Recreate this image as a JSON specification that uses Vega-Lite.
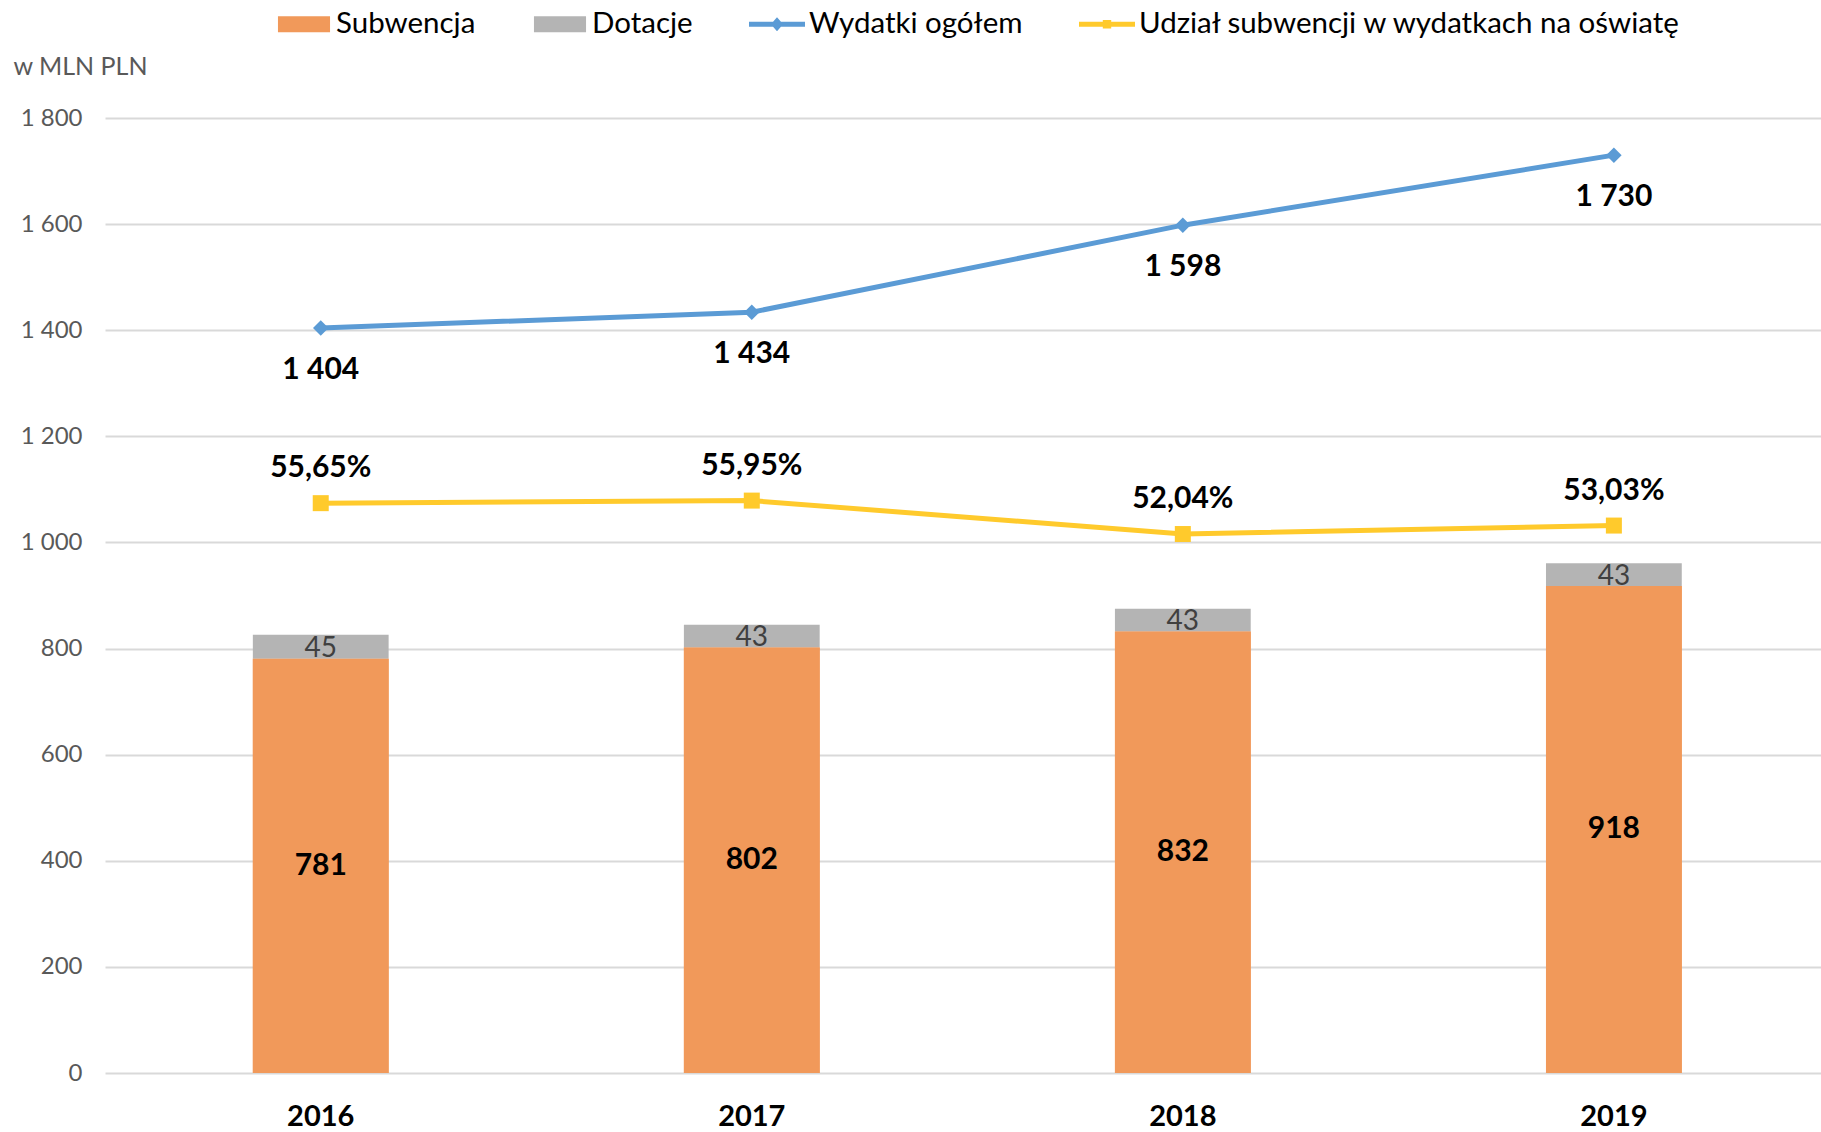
{
  "$schema": "https://vega.github.io/schema/vega-lite/v6.json",
  "width": 1716,
  "height": 955,
  "autosize": {"type": "none"},
  "padding": {"left": 105, "top": 118, "right": 0, "bottom": 59},
  "background": "#ffffff",
  "config": {
    "font": "Lato",
    "view": {"stroke": null},
    "locale": {"number": {"decimal": ",", "thousands": " ", "grouping": [3], "currency": ["", " zł"]}},
    "axisY": {
      "domain": false, "ticks": false, "tickSize": 0,
      "gridColor": "#D9D9D9", "gridWidth": 2,
      "labelFont": "Lato", "labelFontSize": 24, "labelColor": "#595959", "labelPadding": 23,
      "format": ",d", "tickCount": 9,
      "titleFont": "Lato", "titleFontSize": 25, "titleFontWeight": "normal", "titleColor": "#595959",
      "titleAngle": 0, "titleX": -92, "titleY": -44, "titleAlign": "left", "titleBaseline": "alphabetic"
    }
  },
  "datasets": {
    "bary": [
      {"rok": "2016", "seria": "Subwencja", "wartosc": 781},
      {"rok": "2016", "seria": "Dotacje", "wartosc": 45},
      {"rok": "2017", "seria": "Subwencja", "wartosc": 802},
      {"rok": "2017", "seria": "Dotacje", "wartosc": 43},
      {"rok": "2018", "seria": "Subwencja", "wartosc": 832},
      {"rok": "2018", "seria": "Dotacje", "wartosc": 43},
      {"rok": "2019", "seria": "Subwencja", "wartosc": 918},
      {"rok": "2019", "seria": "Dotacje", "wartosc": 43}
    ],
    "linie": [
      {"rok": "2016", "wydatki": 1404, "udzial": 0.5565},
      {"rok": "2017", "wydatki": 1434, "udzial": 0.5595},
      {"rok": "2018", "wydatki": 1598, "udzial": 0.5204},
      {"rok": "2019", "wydatki": 1730, "udzial": 0.5303}
    ]
  },
  "encoding": {
    "x": {
      "field": "rok", "type": "ordinal",
      "scale": {"paddingInner": 0.685, "paddingOuter": 0.333, "align": 0.515},
      "axis": {
        "title": null, "domain": false, "ticks": false, "tickSize": 0, "grid": false,
        "labelAngle": 0, "labelFont": "Lato", "labelFontSize": 29, "labelFontWeight": "bold",
        "labelColor": "#000000", "labelBaseline": "alphabetic", "labelPadding": 52
      }
    }
  },
  "layer": [
    {
      "layer": [
        {
          "data": {"name": "bary"},
          "mark": {"type": "bar"},
          "encoding": {
            "y": {"field": "wartosc", "type": "quantitative", "stack": "zero", "scale": {"domain": [0, 1800]}, "title": "w MLN PLN"},
            "color": {
              "field": "seria", "type": "nominal",
              "scale": {
                "domain": ["Subwencja", "Dotacje", "Wydatki ogółem", "Udział subwencji w wydatkach na oświatę"],
                "range": ["#F1995A", "#B4B4B4", "#5B9BD5", "#FFCA2C"]
              },
              "legend": {
                "orient": "none", "legendX": 171, "legendY": -122, "direction": "horizontal", "columns": 4,
                "title": null, "labelFont": "Lato", "labelFontSize": 29.5, "labelColor": "#000000",
                "symbolSize": 3136, "columnPadding": 56, "labelOffset": 4, "labelLimit": 1000,
                "symbolStrokeWidth": 0,
                "encode": {
                  "symbols": {
                    "update": {
                      "shape": {"signal": "datum.value === 'Subwencja' || datum.value === 'Dotacje' ? 'M-0.93,-0.29H0.93V0.29H-0.93Z' : (datum.value === 'Wydatki ogółem' ? 'M-1,-0.09H1V0.09H-1Z M0,-0.25L0.22,0L0,0.25L-0.22,0Z' : 'M-1,-0.09H1V0.09H-1Z M-0.15,-0.15H0.15V0.15H-0.15Z')"},
                      "fill": {"scale": "color", "field": "value"},
                      "strokeWidth": {"value": 0},
                      "opacity": {"value": 1}
                    }
                  }
                }
              }
            },
            "order": {"field": "seria", "sort": "descending"}
          }
        },
        {
          "data": {"name": "bary"},
          "mark": {"type": "text", "baseline": "middle", "align": "center", "dy": 2, "fontWeight": "normal"},
          "encoding": {
            "y": {"field": "wartosc", "type": "quantitative", "stack": "zero", "bandPosition": 0.5, "title": "w MLN PLN"},
            "detail": {"field": "seria"},
            "order": {"field": "seria", "sort": "descending"},
            "text": {"field": "wartosc", "type": "quantitative", "format": ",d"},
            "color": {"value": "#404040"},
            "size": {"value": 28}
          }
        },
        {
          "data": {"name": "bary"},
          "transform": [{"filter": "datum.seria === 'Subwencja'"}],
          "mark": {"type": "bar", "color": "#F1995A"},
          "encoding": {
            "y": {"field": "wartosc", "type": "quantitative", "stack": "zero", "title": "w MLN PLN"}
          }
        },
        {
          "data": {"name": "bary"},
          "transform": [{"filter": "datum.seria === 'Subwencja'"}],
          "mark": {"type": "text", "baseline": "middle", "align": "center", "fontWeight": "bold", "fontSize": 30, "color": "#000000"},
          "encoding": {
            "y": {"field": "wartosc", "type": "quantitative", "stack": "zero", "bandPosition": 0.5, "title": "w MLN PLN"},
            "text": {"field": "wartosc", "type": "quantitative", "format": ",d"}
          }
        },
        {
          "data": {"name": "linie"},
          "mark": {"type": "line", "strokeWidth": 5},
          "encoding": {
            "y": {"field": "wydatki", "type": "quantitative", "title": "w MLN PLN"},
            "color": {"datum": "Wydatki ogółem"}
          }
        },
        {
          "data": {"name": "linie"},
          "mark": {"type": "point", "shape": "diamond", "filled": true, "size": 240, "opacity": 1},
          "encoding": {
            "y": {"field": "wydatki", "type": "quantitative", "title": "w MLN PLN"},
            "color": {"datum": "Wydatki ogółem"}
          }
        },
        {
          "data": {"name": "linie"},
          "mark": {"type": "text", "fontSize": 30, "fontWeight": "bold", "color": "#000000", "baseline": "middle", "dy": 42},
          "encoding": {
            "y": {"field": "wydatki", "type": "quantitative", "title": "w MLN PLN"},
            "text": {"field": "wydatki", "type": "quantitative", "format": ",d"}
          }
        }
      ]
    },
    {
      "data": {"name": "linie"},
      "encoding": {
        "y": {"field": "udzial", "type": "quantitative", "scale": {"domain": [-0.11, 1.007], "nice": false, "zero": false}, "axis": null}
      },
      "layer": [
        {
          "mark": {"type": "line", "strokeWidth": 5},
          "encoding": {"color": {"datum": "Udział subwencji w wydatkach na oświatę"}}
        },
        {
          "mark": {"type": "point", "shape": "square", "filled": true, "size": 256, "opacity": 1},
          "encoding": {"color": {"datum": "Udział subwencji w wydatkach na oświatę"}}
        },
        {
          "mark": {"type": "text", "fontSize": 30, "fontWeight": "bold", "color": "#000000", "baseline": "middle", "dy": -35},
          "encoding": {"text": {"field": "udzial", "type": "quantitative", "format": ".2%"}}
        }
      ]
    }
  ],
  "resolve": {"scale": {"y": "independent"}}
}
